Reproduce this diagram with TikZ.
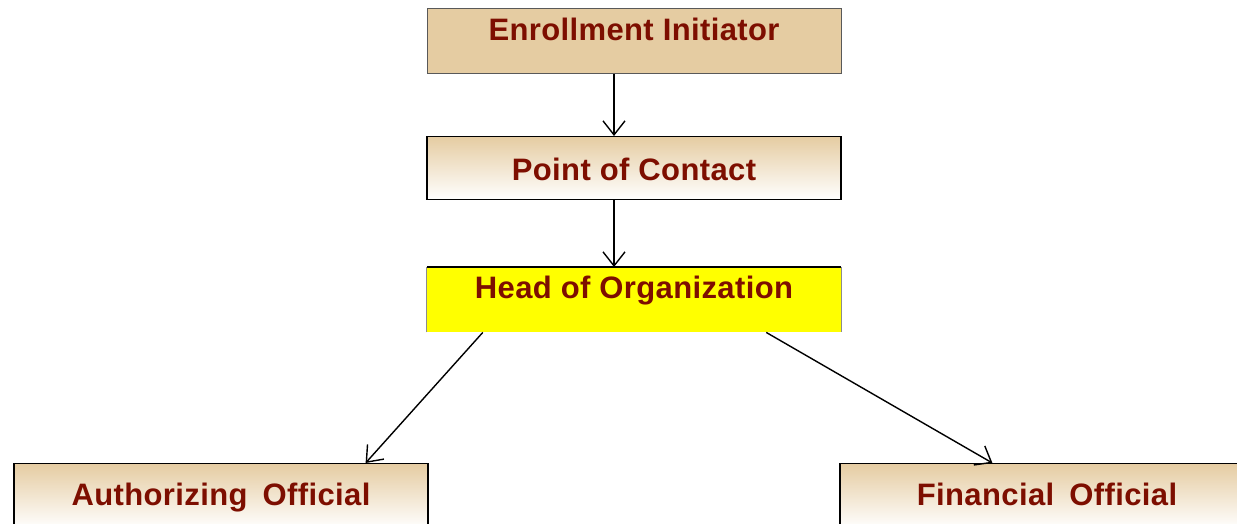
\documentclass[tikz,border=0pt]{standalone}
\usepackage{fontspec}
\setmainfont{Liberation Sans}[LetterSpace=1.2]
\usetikzlibrary{arrows.meta}
\definecolor{boxtan}{RGB}{229,204,162}
\definecolor{rolered}{RGB}{125,14,0}
\definecolor{headyellow}{RGB}{255,255,0}
\tikzset{
    role/.style={rectangle, minimum width=414pt, inner sep=0pt, text=rolered,
        font=\fontsize{31}{37}\selectfont\bfseries},
    fadebox/.style={role, draw=black, line width=1.2pt,
        top color=boxtan, middle color=boxtan!35, bottom color=white},
    flow/.style={-{Straight Barb[length=14pt,width=22pt]}, line width=1.4pt}
}
\begin{document}
\begin{tikzpicture}[x=1pt,y=-1pt]
    \useasboundingbox (0,0) rectangle (1237,523);
    \clip (0,0) rectangle (1237,523);

    % top of the chain
    \node[role, anchor=north, fill=boxtan, draw=black!65, line width=0.8pt,
        text height=32pt, text depth=33pt] (ei) at (634,8) {Enrollment Initiator};
    \node[fadebox, anchor=north, text height=44pt, text depth=19pt] (poc) at (634,136) {Point of Contact};

    % head box: yellow, black top edge, no bottom edge
    \node[role, anchor=north, fill=headyellow, text height=31pt, text depth=34pt] (hoo) at (634,267) {Head of Organization};
    \draw[black!45, line width=0.8pt] (hoo.south west) -- (hoo.north west)
        (hoo.north east) -- (hoo.south east);
    \draw[line width=1.3pt] (hoo.north west) -- (hoo.north east);

    % the two officials
    \node[fadebox, anchor=north, text height=42pt, text depth=23pt] (ao) at (221,463) {Authorizing\hspace{0.2em} Official};
    \node[fadebox, anchor=north, text height=42pt, text depth=23pt] (fo) at (1047,463) {Financial\hspace{0.2em} Official};

    % connectors
    \draw[flow] ([xshift=-20pt]ei.south) -- ([xshift=-20pt]poc.north);
    \draw[flow] ([xshift=-20pt]poc.south) -- ([xshift=-20pt]hoo.north);
    \draw[flow] ([xshift=56pt]hoo.south west) -- ([xshift=-63pt]ao.north east);
    \draw[flow] ([xshift=-75pt]hoo.south east) -- ([xshift=153pt]fo.north west);
\end{tikzpicture}
\end{document}
